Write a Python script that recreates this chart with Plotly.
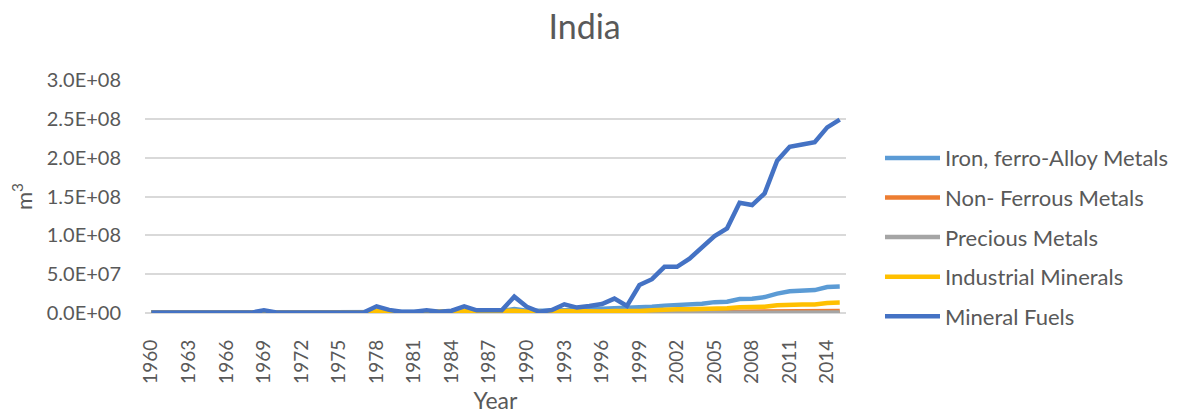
import plotly.graph_objects as go

years = list(range(1960, 2016))

iron_ferro = [5e5]*10 + [1e6]*10 + [1.5e6]*8 + [
    3e6, 5e6, 3e6, 2.5e6, 3e6, 3.5e6, 4e6, 4.5e6, 5e6, 5.5e6, 6e6,
    7e6, 8e6, 9.5e6, 1.0e7, 1.05e7, 1.2e7, 1.4e7, 1.45e7, 1.8e7, 1.85e7,
    2.05e7, 2.5e7, 2.8e7, 2.9e7, 2.95e7, 3.35e7, 3.4e7]

non_ferrous = [2e5]*20 + [3e5]*20 + [
    8e5, 9e5, 1.0e6, 1.1e6, 1.2e6, 1.3e6, 1.5e6, 1.7e6, 1.9e6, 2.0e6,
    2.1e6, 2.2e6, 2.3e6, 2.3e6, 2.4e6, 2.5e6]

precious = [1e5]*40 + [
    2e5, 2e5, 2e5, 3e5, 3e5, 3e5, 3e5, 4e5, 4e5, 4e5,
    4e5, 5e5, 5e5, 5e5, 5e5, 5e5]

industrial = [3e5]*9 + [1.5e6] + [5e5]*8 + [
    3e6, 1.5e6, 8e5, 8e5, 1.5e6, 8e5, 1.5e6, 3e6, 2e6, 2e6, 2e6, 3e6,
    1.5e6, 1e6, 1.5e6, 2.5e6, 2e6, 2e6, 2e6, 2.5e6, 2e6, 2.5e6, 3.5e6,
    4.5e6, 4.7e6, 4.8e6, 5e6, 5.5e6, 6e6, 7.5e6, 7.5e6, 8e6, 1.0e7,
    1.1e7, 1.1e7, 1.1e7, 1.3e7, 1.35e7]

mineral_fuels = [5e5]*9 + [3.5e6] + [8e5]*5 + [1e6]*3 + [
    8.6e6, 4e6, 1.5e6, 1.5e6, 3.5e6, 1.5e6, 3e6, 8.5e6, 3.5e6, 3.5e6,
    3.5e6, 2.1e7, 8e6, 1.5e6, 3.8e6, 1.12e7, 7e6, 9e6, 1.15e7, 1.85e7,
    9e6, 3.6e7, 4.35e7, 5.95e7, 5.95e7, 7.0e7, 8.5e7, 9.9e7, 1.09e8,
    1.42e8, 1.39e8, 1.54e8, 1.96e8, 2.14e8, 2.17e8, 2.2e8, 2.39e8, 2.49e8]

series_names = ["Iron, ferro-Alloy Metals", "Non- Ferrous Metals", "Precious Metals",
                "Industrial Minerals", "Mineral Fuels"]
series_values = [iron_ferro, non_ferrous, precious, industrial, mineral_fuels]
series_colors = ["#5B9BD5", "#ED7D31", "#A5A5A5", "#FFC000", "#4472C4"]

x_tick_years = list(range(1960, 2015, 3))
x_tick_labels = [str(y) for y in x_tick_years]
y_tick_vals = [0, 5e7, 1e8, 1.5e8, 2e8, 2.5e8, 3e8]
y_tick_labels = ["0.0E+00", "5.0E+07", "1.0E+08", "1.5E+08", "2.0E+08", "2.5E+08", "3.0E+08"]

FONT = "Lato"
GREY = "#595959"

fig = go.Figure()
for name, vals, col in zip(series_names, series_values, series_colors):
    fig.add_trace(go.Scatter(x=years, y=vals, name=name, mode="lines",
                             line=dict(color=col, width=4.5), legendgroup=name))

fig.update_layout(
    width=1184, height=416,
    paper_bgcolor="white", plot_bgcolor="white",
    margin=dict(l=137, r=346, t=72, b=111),
    font=dict(family=FONT, color=GREY, size=20),
    title=dict(text="India", x=0.487, xanchor="center", y=0.955, yanchor="middle",
               font=dict(family=FONT, size=34, color=GREY)),
    showlegend=True,
    legend=dict(x=1.0485, xanchor="left", y=0.755, yanchor="top",
                font=dict(family=FONT, size=22, color=GREY),
                tracegroupgap=8, itemwidth=55, bgcolor="rgba(0,0,0,0)"),
    xaxis=dict(range=[1959.5, 2015.5], tickmode="array", tickvals=x_tick_years,
               ticktext=x_tick_labels, tickangle=-90, showgrid=False,
               zeroline=False, showline=False, ticks="", ticklabelstandoff=22,
               tickfont=dict(size=19, color=GREY),
               title=dict(text="Year", font=dict(size=23, color=GREY), standoff=10)),
    yaxis=dict(range=[0, 3e8], tickmode="array", tickvals=y_tick_vals,
               ticktext=y_tick_labels, showgrid=True, gridcolor="#D9D9D9", gridwidth=1.5,
               zeroline=True, zerolinecolor="#D9D9D9", zerolinewidth=1.5,
               showline=False, ticks="", ticklabelstandoff=23,
               tickfont=dict(size=20, color=GREY),
               title=dict(text="m<sup>3</sup>", font=dict(size=22, color=GREY), standoff=10)),
)

fig.write_html("out.html")
